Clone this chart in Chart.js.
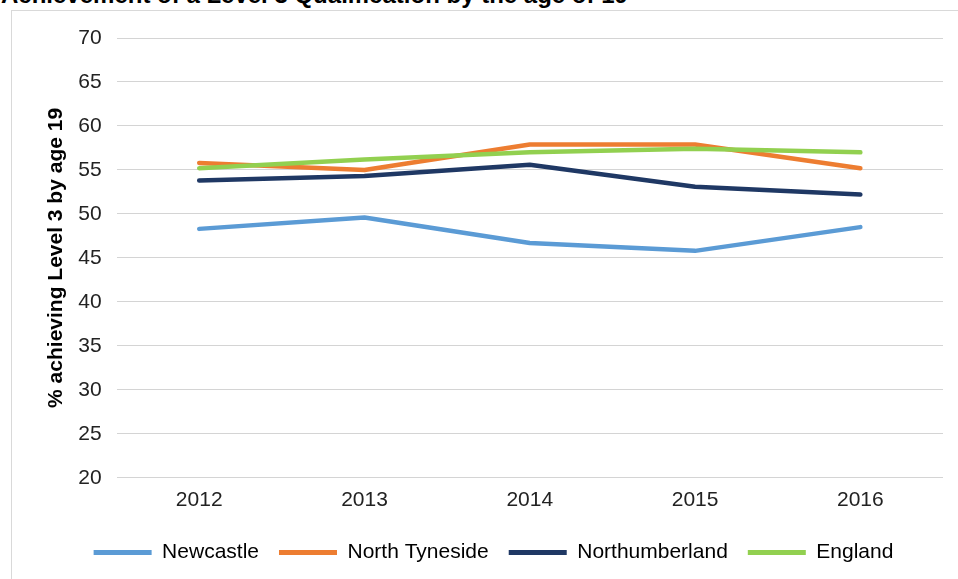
<!DOCTYPE html>
<html>
<head>
<meta charset="utf-8">
<script src="https://cdn.jsdelivr.net/npm/chart.js@4"></script>
<style>
  html, body { margin: 0; padding: 0; background: #fff; overflow: hidden; }
  #title {
    position: absolute; left: 1px; top: -19px;
    font: bold 24px "Liberation Sans", Arial, sans-serif; color: #000;
    white-space: nowrap;
  }
  #frame {
    position: absolute; left: 11px; top: 10px; width: 960px; height: 600px;
    border: 1px solid #d9d9d9; box-sizing: border-box;
  }
  #wrap { position: absolute; left: 0; top: 0; width: 958px; height: 579px; }
</style>
</head>
<body>
<div id="title">Achievement of a Level 3 Qualification by the age of 19</div>
<div id="frame"></div>
<div id="wrap"><canvas id="levelChart"></canvas></div>
<script>
const years = ["2012", "2013", "2014", "2015", "2016"];
const newcastle = [48.3, 49.6, 46.7, 45.8, 48.5];
const northTyneside = [55.8, 55.0, 57.9, 57.9, 55.2];
const northumberland = [53.8, 54.3, 55.6, 53.1, 52.2];
const england = [55.2, 56.2, 57.0, 57.4, 57.0];

const font = "'Liberation Sans', Arial, sans-serif";

function line(label, values, colour, order) {
  return {
    label: label,
    data: values,
    borderColor: colour,
    backgroundColor: colour,
    borderWidth: 4.5,
    pointRadius: 0,
    tension: 0,
    borderCapStyle: "round",
    borderJoinStyle: "round",
    order: order,
  };
}

const data = {
  labels: years,
  datasets: [
    line("Newcastle", newcastle, "#5b9bd5", 4),
    line("North Tyneside", northTyneside, "#ed7d31", 3),
    line("Northumberland", northumberland, "#1f3864", 2),
    line("England", england, "#92d050", 1),
  ],
};

const config = {
  type: "line",
  data,
  options: {
    responsive: true,
    maintainAspectRatio: false,
    animation: false,
    layout: { padding: { left: 44, right: 15, top: 38, bottom: 6 } },
    plugins: {
      tooltip: { enabled: false },
      legend: {
        position: "bottom",
        labels: {
          boxWidth: 58,
          boxHeight: 5,
          padding: 20,
          color: "#222",
          font: { family: font, size: 21 },
          generateLabels(chart) {
            return chart.data.datasets.map((ds, i) => ({
              text: ds.label,
              fillStyle: ds.borderColor,
              strokeStyle: ds.borderColor,
              lineWidth: 0,
              datasetIndex: i,
            }));
          },
        },
      },
    },
    scales: {
      x: {
        offset: true,
        grid: { display: false, drawTicks: false },
        border: { display: false },
        ticks: { color: "#222", font: { family: font, size: 21 }, padding: 9.5 },
      },
      y: {
        min: 20,
        max: 70,
        ticks: { stepSize: 5, color: "#222", font: { family: font, size: 21 }, padding: 15 },
        grid: { color: "#d4d4d4", lineWidth: 1, drawTicks: false },
        border: { display: false },
        title: {
          display: true,
          text: "% achieving Level 3 by age 19",
          color: "#000",
          font: { family: font, size: 21, weight: "bold" },
          padding: { top: 0, bottom: -6 },
        },
      },
    },
  },
};

new Chart(document.getElementById("levelChart"), config);
</script>
</body>
</html>
